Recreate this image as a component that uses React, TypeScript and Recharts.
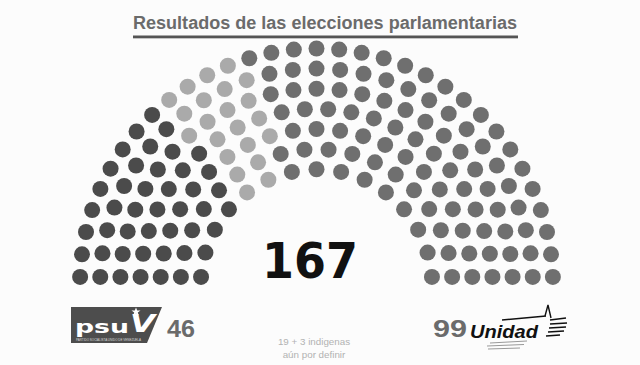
import { ScatterChart, Scatter, XAxis, YAxis } from "recharts";

// seat counts (46 + 22 + 99 = 167)
const parties = ["PSUV", "Por definir", "Unidad"];
const seats = [46, 22, 99];
const partyColors = ["#4b4b4b", "#aaaaaa", "#6f6f6f"];

// cumulative capacity of a hemicycle with n rows (parliament diagram tool)
const ROW_TOTALS = [3, 15, 33, 61, 95, 138, 189, 251, 324, 405];

type Seat = { a: number; x: number; y: number };

function layoutSeats(total: number): Seat[] {
  const rows = ROW_TOTALS.findIndex((t) => t >= total) + 1;
  const rad = 0.4 / rows;
  const out: Seat[] = [];
  const addRow = (J: number, R: number) => {
    for (let j = 0; j < J; j++) {
      const a =
        J === 1
          ? Math.PI / 2
          : (j * (Math.PI - 2 * Math.sin(rad / R))) / (J - 1) + Math.sin(rad / R);
      out.push({ a, x: R * Math.cos(a), y: R * Math.sin(a) });
    }
  };
  for (let i = 1; i < rows; i++) {
    const J = Math.floor(
      ((total / ROW_TOTALS[rows - 1]) * Math.PI) /
        (2 * Math.asin(2 / (3 * rows + 4 * i - 2)))
    );
    addRow(J, (3 * rows + 4 * i - 2) / (4 * rows));
  }
  addRow(total - out.length, (7 * rows - 2) / (4 * rows));
  out.sort((p, q) => q.a - p.a || q.x - p.x || q.y - p.y);
  return out;
}

const total = seats.reduce((s, v) => s + v, 0);
const allSeats = layoutSeats(total);
const seriesData = seats.map((n, i) => {
  const start = seats.slice(0, i).reduce((s, v) => s + v, 0);
  return allSeats.slice(start, start + n);
});

const W = 640;
const H = 365;
const S = 140.9; // px per unit
const CX = 316.5;
const CY = 285;

export default function App() {
  return (
    <div
      style={{
        position: "absolute",
        left: 0,
        top: 0,
        width: W,
        height: H,
        background: "#fcfcfc",
      }}
    >
      <ScatterChart width={W} height={H} margin={{ top: 0, right: 0, bottom: 0, left: 0 }}>
        <XAxis type="number" dataKey="x" domain={[-CX / S, (W - CX) / S]} hide />
        <YAxis type="number" dataKey="y" domain={[-(H - CY) / S, CY / S]} hide />
        {seriesData.map((d, i) => (
          <Scatter
            key={parties[i]}
            name={parties[i]}
            data={d}
            isAnimationActive={false}
            shape={(p: any) => <circle cx={p.cx} cy={p.cy} r={8} fill={partyColors[i]} />}
          />
        ))}
      </ScatterChart>
      <svg
        width={W}
        height={H}
        style={{ position: "absolute", left: 0, top: 0, pointerEvents: "none" }}
      >
        <text
          x={325}
          y={29}
          textAnchor="middle"
          fontFamily="Liberation Sans, Arial, sans-serif"
          fontWeight="bold"
          fontSize={18}
          fill="#6b6b6b"
          textLength={384}
          lengthAdjust="spacingAndGlyphs"
        >
          Resultados de las elecciones parlamentarias
        </text>
        <rect x={133} y={35.5} width={385} height={2.5} fill="#555" />
        <rect x={133} y={38} width={385} height={1} fill="#c4c4c4" />

        <text
          x={310}
          y={278}
          textAnchor="middle"
          fontFamily="DejaVu Sans, sans-serif"
          fontWeight="bold"
          fontSize={50}
          fill="#111"
          textLength={96}
          lengthAdjust="spacingAndGlyphs"
        >
          {total}
        </text>

        {/* PSUV logo */}
        <polygon points="71,307 162,307 147,343 71,343" fill="#4d4d4d" />
        <text
          x={75}
          y={333}
          fontFamily="DejaVu Sans, sans-serif"
          fontWeight="bold"
          fontSize={17}
          fill="#fff"
          textLength={54}
          lengthAdjust="spacingAndGlyphs"
        >
          psu
        </text>
        <text
          x={130}
          y={332}
          fontFamily="DejaVu Sans, sans-serif"
          fontWeight="bold"
          fontStyle="italic"
          fontSize={24}
          fill="#fff"
          textLength={25}
          lengthAdjust="spacingAndGlyphs"
        >
          V
        </text>
        <polygon
          points="136,307.5 137.2,310.6 140.5,310.6 137.8,312.5 138.8,315.6 136,313.7 133.2,315.6 134.2,312.5 131.5,310.6 134.8,310.6"
          fill="#fff"
        />
        <text
          x={76}
          y={341}
          fontFamily="Liberation Sans, Arial, sans-serif"
          fontSize={3.2}
          fill="#ddd"
          textLength={65}
          lengthAdjust="spacingAndGlyphs"
        >
          PARTIDO SOCIALISTA UNIDO DE VENEZUELA
        </text>
        <text
          x={167}
          y={337}
          fontFamily="Liberation Sans, Arial, sans-serif"
          fontWeight="bold"
          fontSize={23}
          fill="#6b6b6b"
          textLength={28}
          lengthAdjust="spacingAndGlyphs"
        >
          {seats[0]}
        </text>

        {/* undefined seats note */}
        <text
          x={314}
          y={345}
          textAnchor="middle"
          fontFamily="Liberation Sans, Arial, sans-serif"
          fontSize={9.8}
          fill="#b2b2b2"
        >
          {`19 + 3 indigenas`}
        </text>
        <text
          x={314}
          y={358}
          textAnchor="middle"
          fontFamily="Liberation Sans, Arial, sans-serif"
          fontSize={9.8}
          fill="#b2b2b2"
        >
          aún por definir
        </text>

        {/* Unidad logo */}
        <text
          x={433}
          y={337}
          fontFamily="Liberation Sans, Arial, sans-serif"
          fontWeight="bold"
          fontSize={23}
          fill="#6b6b6b"
          textLength={34}
          lengthAdjust="spacingAndGlyphs"
        >
          {seats[2]}
        </text>
        <text
          x={470}
          y={338}
          fontFamily="Liberation Sans, Arial, sans-serif"
          fontWeight="bold"
          fontStyle="italic"
          fontSize={18}
          fill="#111"
          textLength={68}
          lengthAdjust="spacingAndGlyphs"
        >
          Unidad
        </text>
        <path d="M502,320 L546,316" stroke="#111" strokeWidth={1.6} />
        <path d="M545,316 L548,305 L551,318" stroke="#111" strokeWidth={1.4} fill="none" />
        <path
          d="M550,320 L566,318 M550,324 L567,323 M549,328 L566,327 M548,332 L564,331 M546,336 L560,335"
          stroke="#111"
          strokeWidth={1.6}
          fill="none"
        />
        <path
          d="M490,343 L527,341 M487,346 L524,344.5 M488,349 L520,348"
          stroke="#999"
          strokeWidth={1}
          fill="none"
        />
      </svg>
    </div>
  );
}
